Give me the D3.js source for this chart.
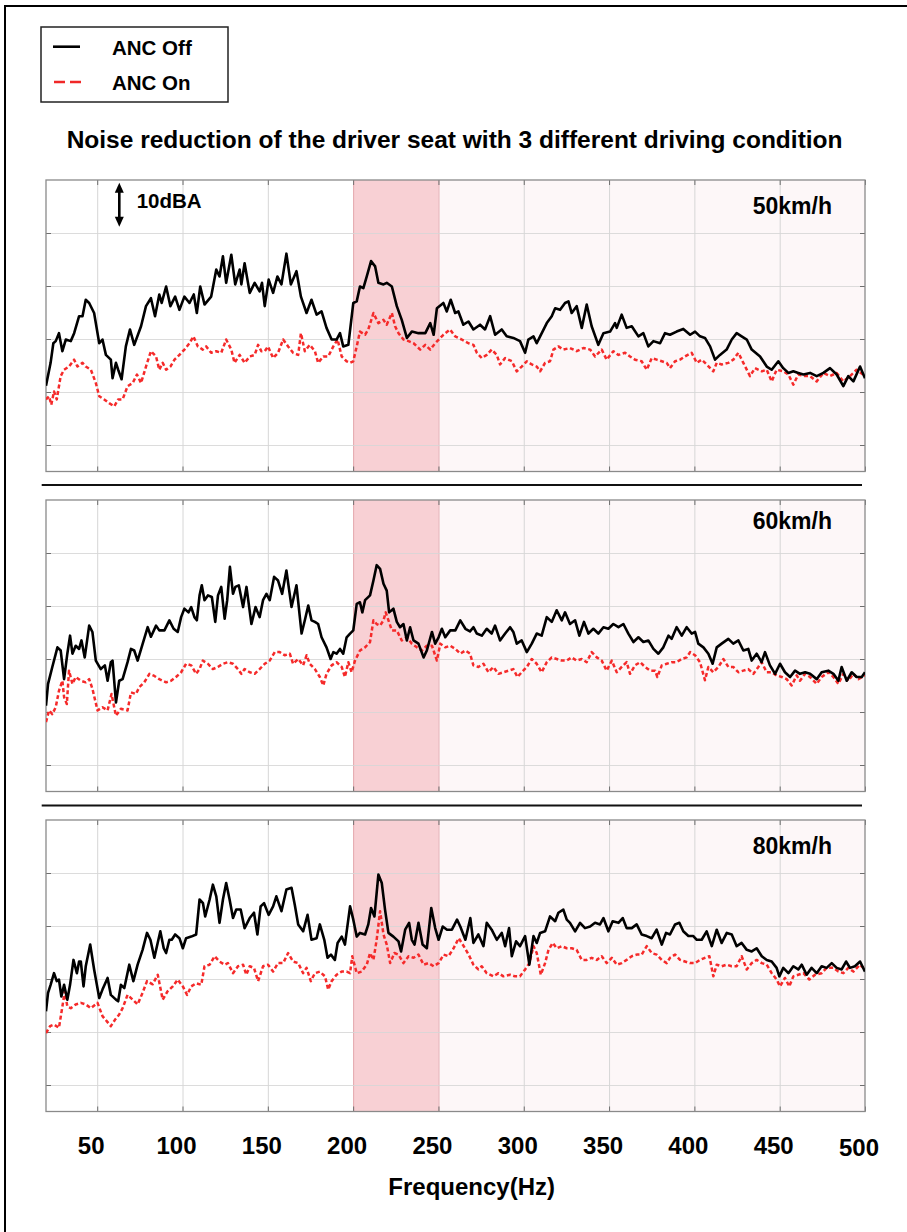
<!DOCTYPE html>
<html>
<head>
<meta charset="utf-8">
<script src="https://cdn.jsdelivr.net/npm/d3@7"></script>
<style>
  body { margin: 0; background: #fff; }
  svg { display: block; }
  text { font-family: "Liberation Sans", Arial, Helvetica, sans-serif; font-weight: bold; fill: #000; }
</style>
</head>
<body>
<svg id="chart" width="907" height="1232"></svg>
<script>
// Cabin sound pressure at the driver seat, [frequency Hz, level dBA]
const off50 = [[20,21.2],[22.7,25.5],[24.3,29.2],[25.7,29.6],[27.6,31.1],[29.6,27.7],[31.6,29.9],[34.5,29.6],[36.5,31.1],[39.4,34.3],[41.4,34.3],[43.3,37.4],[45.3,36.8],[48.2,34.9],[51.2,29.2],[53.1,29.9],[55.1,27],[58,26.1],[59,22.6],[61,25.5],[62.3,24.2],[64.3,22.4],[66.8,28.6],[69.2,31.8],[71.7,28.9],[75.7,32.4],[78.6,36.2],[81.5,37.7],[83.9,34.3],[86.4,38.4],[87.8,36.8],[90.4,39.9],[92.9,36.2],[95.7,38],[98.2,35.5],[101.1,38],[104.1,36.8],[106.6,38.4],[108.4,34.9],[110.4,39.9],[112.9,36.5],[116.8,38],[119.8,43.1],[121.7,41.8],[123.7,45.6],[125.6,40.6],[128.6,45.9],[130.9,40.3],[133.5,43.1],[134.5,40.3],[136.4,44.3],[139.4,38.7],[142.3,40.6],[145.2,39],[146.6,40.6],[148.2,36.2],[150.5,41.2],[153.1,38.7],[155.6,41.8],[158,40.3],[160.9,46.1],[163.5,40.3],[166.8,42.8],[169.4,38],[172.7,34.9],[175.6,37.4],[178.6,34.6],[181.5,35.2],[184.4,32.1],[187.4,29.9],[190.3,29.9],[192.3,31.1],[194.2,28.6],[197.2,28.9],[200.1,36.8],[202.1,37.1],[204,39.9],[206,39.6],[208,41.8],[210.5,44.7],[212.9,43.7],[214.8,40.6],[217.8,40.3],[219.7,40.6],[222.7,39.9],[225.6,36.2],[228.5,33.6],[231.5,30.2],[234.4,31.4],[238.3,31.1],[242.3,31.1],[245.2,33],[247.2,30.8],[249.1,35.8],[252.9,36.8],[254.9,35.2],[257.2,37.4],[259.8,34.9],[261.7,35.2],[264.6,32.7],[267.6,33.3],[270.5,31.8],[274.4,32.7],[277.3,31.8],[280.3,34.3],[283.2,30.8],[287.1,31.8],[290,30.5],[293.9,30.2],[297.8,29.6],[300.8,27.4],[302.7,29.9],[305.7,30.5],[307.6,29.2],[309.6,30.5],[313.5,33],[316.4,34.3],[318.4,35.8],[321.3,35.5],[324.2,36.8],[326.2,37.1],[328.1,34.9],[331,36.2],[334,32.1],[336.9,36.5],[339.8,32.4],[343.7,28.9],[346.7,31.1],[350.6,31.4],[353.5,33],[354.5,32.1],[357.4,34.6],[360.3,32.1],[363.3,32.4],[367.2,30.5],[370.1,31.1],[373,28.6],[376,29.6],[379.9,29.2],[382.8,31.1],[385.7,30.8],[389.6,31.4],[393.5,31.9],[397.5,30.8],[400.4,31.4],[403.3,30.5],[406.2,30.2],[409.2,28.6],[412.1,26.1],[415,27],[418.9,28],[421.9,29.9],[424.8,31.1],[427.7,30.5],[430.7,29.9],[433.6,28],[438.5,26.7],[442.4,24.8],[445.3,24.2],[449.2,25.8],[452.1,24.5],[455.1,23.6],[458,23.9],[460.9,23.6],[463.9,23.3],[467.8,23.6],[471.7,23],[475.6,23.6],[479.5,24.5],[483.4,23.3],[487.3,21.1],[490.2,23],[493.2,22],[497.1,24.8],[500,22.6]];

const on50 = [[20,18.6],[21.8,19.2],[23.1,17.6],[24.7,20.1],[26.3,18.6],[28.6,23],[30.6,24.2],[33.5,24.8],[36.5,26.1],[38.4,24.8],[41.4,25.5],[43.3,24.8],[46.3,24.2],[49.2,21.7],[51.2,19.2],[54.1,18.6],[57,17.9],[60,17.3],[62.3,18.6],[64.9,18.6],[67.8,21.1],[70.8,21.7],[73.3,23.3],[75.7,21.7],[78.6,24.8],[81.5,27.7],[84.5,26.7],[86.4,24.2],[88.4,25.5],[90.4,24.2],[92.9,24.8],[95.3,26.1],[98.2,27],[101.1,28],[104.1,29.2],[106.4,30.5],[109,28.6],[111.9,28],[113.9,28.6],[116.8,27.4],[119.8,27.7],[122.7,27.4],[125.6,29.9],[128.6,28],[130.5,25.5],[133.5,27],[136.4,25.5],[139.4,26.7],[142.3,27],[144.3,28.9],[146.2,27.7],[148.2,27.7],[150.1,28.6],[153.1,26.4],[156,27.4],[159,29.9],[161.9,28.6],[164.8,27.4],[167.8,27],[169.4,31.1],[171.7,27.7],[174.6,28.9],[177.6,27.7],[179.5,25.5],[182.5,26.7],[185.4,26.7],[188.4,28.6],[190.9,29.9],[193.3,26.7],[196.2,25.8],[198.2,25.5],[200.1,25.8],[202.1,28.6],[204,31.4],[207,30.8],[208.9,31.8],[211.9,34.9],[214.8,33],[217.8,33.6],[219.7,32.7],[222.7,34.9],[224.6,32.4],[226.6,31.1],[229.5,29.9],[232.5,29.6],[235.4,29.2],[239.3,28],[242.3,28.9],[245.2,28],[248.1,29.2],[252.9,30.8],[256.8,31.8],[259.8,30.5],[263.7,29.9],[267.6,29.2],[270.5,28.9],[272.5,27.4],[275.4,26.4],[278.3,27],[281.2,28],[284.2,27],[286.1,25.2],[289.1,26.4],[293,25.8],[295.9,23.9],[298.8,24.8],[301.8,25.8],[304.7,25.2],[307.6,24.8],[309.6,23.9],[312.5,25.5],[315.4,25.8],[317.4,28],[320.3,28.6],[323.2,28],[327.1,28.3],[331,27.7],[335,28.3],[338.9,28],[341.8,26.7],[345.7,28],[348.6,26.1],[352.5,27.7],[355.5,27],[359.4,27.4],[362.3,26.7],[365.2,26.1],[369.1,25.8],[372.1,24.2],[375,26.4],[377.9,26.1],[380.9,25.8],[383.8,25.5],[385.7,24.5],[388.7,25.8],[391.6,26.1],[394.5,26.7],[398.4,27.4],[401.4,25.5],[404.3,26.1],[407.2,25.2],[411.1,23.9],[413.1,25.5],[416,25.2],[419.9,25.5],[422.8,26.1],[425.8,27.4],[428.7,25.5],[432.6,23],[435.5,24.5],[439.5,23.9],[442.4,24.2],[445.3,22],[448.2,24.2],[452.1,23.9],[455.1,23.3],[458,21.4],[460.9,23.3],[464.8,23],[467.8,23],[471.7,22],[475.6,23.6],[479.5,23],[483.4,23.6],[487.3,22],[491.2,23],[495.1,24.2],[500,23]];

const off60 = [[20,21.2],[21.2,25.3],[23.7,28.5],[26.7,32.2],[28.6,31.6],[30.6,26.2],[32.5,31],[34.1,34.4],[35.5,31],[37.4,32.5],[39.4,31.9],[40.8,33.5],[42.7,30.3],[45.3,36.3],[47.2,35.1],[49.2,29.7],[52.1,28.1],[54.5,28.8],[56.1,25.9],[58,29.4],[59,29.7],[61,21.8],[62.9,25.9],[64.9,26.2],[67.8,29.4],[69.8,31.9],[71.7,31.6],[73.7,29.7],[76.6,32.8],[79.6,36],[81.5,34.2],[84.5,36.3],[86.4,35.4],[89.4,35.4],[92.3,37.3],[94.8,35.7],[97.2,35.1],[99.2,37.9],[101.1,39.5],[103.5,38.8],[105.1,39.8],[107,37.9],[108.4,37.3],[110,42],[111.3,43.9],[112.9,41.1],[114.9,42],[117.2,41.7],[119.2,37],[120.8,42],[122.7,43.6],[124.7,37.6],[126.2,41.1],[127.8,47.4],[129.6,42.3],[131,43.6],[133,43.9],[135.5,39.8],[137.5,43.6],[140.4,36.6],[142.8,39.8],[145.2,37.9],[147.2,41.1],[149.2,42.3],[151.1,41.1],[153.7,45.5],[156,44.8],[158.4,42.3],[160.9,46.7],[163.9,39.8],[166.8,43.9],[169.8,34.8],[171.7,37.3],[173.7,40.1],[175.6,37.3],[177.6,37],[179.5,36.6],[181.5,34.1],[184.4,32.2],[186.8,30],[188.4,31.3],[190.3,31],[192.3,31.9],[194.2,31],[196.2,34.1],[198.2,34.8],[200.1,35.4],[202.1,40.4],[204,40.7],[205.4,38.8],[207,41.1],[209.9,42],[211.9,44.8],[213.8,47.7],[215.8,47],[217.8,44.2],[219.7,42.9],[221.1,38.8],[223.6,39.5],[225.6,37],[227.5,36],[229.5,36.6],[231.5,33.5],[233.4,36],[235.4,33.5],[238.3,32.9],[241.3,30.3],[243.2,31.6],[246.2,35.1],[248.1,32.9],[250.1,34.1],[252,35.7],[254,34.1],[256.9,35.4],[259.9,35.4],[262.8,37.3],[265.8,35.7],[268.5,35.2],[270.5,36],[272.5,34.8],[275.4,34.4],[278.3,35.7],[281.2,34.8],[283.2,36.3],[286.1,33.5],[289.1,34.8],[292,36],[293.9,35.1],[295.9,32.9],[298.8,33.5],[301.8,31.3],[304.7,32.9],[307.6,34.8],[310.5,34.4],[313.5,37.9],[316.4,37],[319.3,39.2],[322.3,37.3],[324.2,38.8],[327.1,36.6],[330.1,37.3],[332.6,34.4],[335.3,37],[337.9,34.8],[340.8,35.7],[343.7,34.8],[346.7,36],[349.6,35.7],[352.5,36.6],[355.5,36],[358.4,36.6],[361.3,34.8],[364.3,33.2],[367.2,34.1],[370.1,33.2],[373,33.5],[376,31.9],[378.9,31],[381.8,32.2],[384.8,34.4],[386.7,33.8],[389.6,36],[392.6,34.4],[395.5,36],[398.4,34.8],[400.4,35.1],[402.3,32.9],[405.3,32.2],[408.2,31],[410.7,29.1],[413.1,32.2],[416,32.9],[419.9,33.8],[422.8,32.9],[425.8,33.5],[428.7,31.6],[431.6,31.9],[433.6,29.7],[436.5,31],[439.4,29.4],[441.4,31.3],[444.3,28.8],[447.3,27.2],[450.2,29.1],[453.1,27.5],[456.1,26.6],[459,27.8],[461.9,27.2],[464.9,27.5],[467.8,27.2],[471.7,26.2],[474.6,27.5],[478.5,27.8],[481.5,27.2],[484.4,25.9],[486.3,28.5],[489.3,25.9],[492.2,27.5],[495.1,26.6],[498.1,26.6],[500,27.5]];

const on60 = [[20,18.1],[21.8,20.3],[23.7,19.6],[25.7,20.9],[27.6,24],[29.6,25.9],[30.6,22.8],[32.2,21.5],[33.5,27.8],[35.5,25.3],[37.4,26.6],[40.4,25.9],[43.3,25.6],[45.3,26.2],[47.2,24.4],[50.2,20.3],[53.1,20.9],[56.1,20.3],[58.4,23.4],[61,19.3],[63.9,20.6],[67.8,20.3],[69.8,23.7],[72.7,23.4],[74.7,24.7],[77.6,25.6],[80.6,27.2],[83.5,26.8],[86.4,26.2],[90.4,25.6],[93.3,25.9],[96.2,26.6],[99.2,27.5],[102.1,29.1],[105.1,28.8],[108,27.2],[110,28.1],[111.9,29.7],[114.9,29.1],[117.8,28.1],[120.7,28.5],[123.7,29.1],[126.6,29.4],[129.6,29.1],[132.5,28.1],[134.5,27.2],[136.4,28.1],[139.4,27.5],[142.3,27.2],[145.2,28.1],[148.2,29.1],[151.1,29.7],[154.1,31.3],[157,31.3],[159.9,30.7],[162.9,31],[164.8,29.1],[167.8,30],[170.7,28.8],[172.7,30.7],[174.6,29.1],[177.6,28.1],[180.5,26.6],[182.5,25],[184.4,27.2],[187.4,28.8],[190.3,29.4],[193.3,28.5],[195.2,26.6],[197.2,29.4],[199.1,27.5],[201.1,29.7],[204,31.6],[207,32.2],[209.9,33.2],[211.9,37.3],[213.8,36.6],[215.8,36.3],[217.8,37.3],[219.1,38.8],[220.7,37.3],[222.7,35.4],[225.6,35.4],[228.5,33.5],[231.5,34.1],[234.4,32.9],[237.4,32.2],[240.3,31.6],[243.2,32.5],[246.2,32.5],[249.1,29.7],[251.1,32.9],[254,32.2],[256.9,32.5],[259.9,31.9],[262.8,31],[265.8,31.6],[268.5,31],[270.5,28.8],[273.4,28.5],[276.4,29.1],[279.3,27.5],[282.2,28.5],[285.2,27.2],[288.1,27.5],[291,27.8],[293.9,28.1],[296.3,26.6],[298.8,27.5],[301.8,28.5],[304.7,30],[307.6,29.1],[310.5,27.5],[313.5,29.4],[316.4,30.3],[319.3,30],[322.3,29.7],[325.2,29.7],[328.1,30.3],[331,29.7],[334,30],[336.9,29.4],[339.8,31.3],[342.8,30.3],[345.7,29.7],[348.6,27.8],[351.6,29.7],[354.5,27.5],[357.4,28.5],[360.3,29.4],[362.3,27.2],[365.2,28.8],[368.2,29.4],[371.1,28.5],[374,27.8],[377,27.8],[378.3,26.6],[380.9,28.8],[383.8,29.1],[386.7,29.4],[389.6,29.4],[392.6,30],[395.5,30.3],[397.5,31.3],[400.4,30.7],[403.3,29.4],[406.2,26],[408.2,28.5],[411.1,27.5],[414.1,28.5],[417,30],[419.9,28.5],[422.8,28.5],[425.8,27.5],[428.7,27.8],[431.6,28.1],[434.6,27.2],[437.5,28.5],[439.4,29.4],[442.4,27.5],[445.3,27.5],[448.2,26.9],[451.2,26.6],[454.1,26.2],[457,25],[460,26.9],[461.9,25.9],[464.9,27.2],[467.8,26.6],[471.7,25.3],[474.6,26.6],[478.5,27.5],[481.5,26.6],[484.4,25.3],[487.3,27.2],[490.2,25.9],[493.2,27.2],[496.1,26.2],[500,26.9]];

const off80 = [[20,23.9],[21.2,27.4],[22.7,28.9],[24.7,31.1],[26.3,29.6],[27.6,29.9],[29,26.7],[30.6,28.9],[32.5,26.1],[34.1,28.9],[36.1,33.6],[38.1,31.1],[39.4,33.3],[40.4,33.3],[42,28.6],[43.3,32.4],[45.9,36.5],[48.2,31.8],[51.2,26.4],[53.1,28],[56.1,30.2],[58,27],[61,26.1],[62.3,25.8],[63.9,28.9],[65.9,28.3],[68.8,32.7],[71.2,29.6],[73.7,32.7],[76.6,35.5],[79.2,38.7],[81.2,37.4],[83.5,34],[87,39],[89,35.8],[90.4,34.9],[92.3,37.4],[93.7,37.4],[95.7,38.4],[98.2,37.7],[100.2,35.8],[102.1,37.7],[105.1,38],[108,38.4],[110,45],[112,44.3],[113.3,41.8],[115.9,45],[117.8,47.8],[119.8,45.6],[121.7,40.6],[123.7,45],[125.6,48.1],[127.6,45],[129.6,41.5],[131.5,43.1],[134.1,43.1],[136.4,39.6],[139.4,41.5],[141.9,42.5],[143.9,38.4],[145.8,43.7],[147.8,44.3],[150.5,42.1],[153.1,43.7],[155,45.6],[158,42.8],[160.9,46.9],[163.9,47.2],[165.8,44],[167.8,40.3],[170.7,39],[173.3,42.1],[175.6,37.4],[178.6,37.7],[180.5,40.3],[183.1,37.4],[185,34],[187,34.6],[189.3,33.6],[190.9,36.8],[193.3,38],[195.2,36.5],[198.2,43.7],[200.1,41.2],[202.1,38],[204,38.7],[207,38.4],[208.9,40.3],[210.5,43.4],[212.5,41.8],[214.8,49.7],[216.8,48.1],[218.7,43.1],[220.7,38.7],[223.6,38],[226.6,37.1],[228.1,35.2],[230.5,39.3],[232.8,40.6],[234.4,37.4],[236,36.5],[238.3,40.6],[240.7,36.5],[243.2,35.8],[245.8,43.4],[248.1,39.6],[250.1,37.4],[252.5,39.9],[255,39.3],[257.9,39.3],[260.9,41.2],[262.8,39.9],[265.8,37.4],[268.7,41.5],[270.5,36.8],[273.4,38.4],[276.4,36.2],[278.3,40.6],[281.2,39.3],[284.2,37.4],[287.1,38.7],[289.1,36.2],[291.4,39.6],[293,34.3],[295.5,37.1],[297.8,36.2],[300.8,38.1],[303.3,32.7],[305.7,38.1],[307.6,36.8],[309.6,38.7],[312.5,39],[315.4,41.8],[318.4,40.9],[320.3,42.5],[323.2,43.1],[325.2,41.2],[327.1,40.6],[330.1,39],[333,40.6],[335.9,39.6],[338.9,39.9],[341.8,40.6],[344.7,40.3],[346.7,41.5],[349.6,39],[352.1,40.9],[355.5,40.6],[358,41.5],[360.3,39.6],[363.3,39.6],[366.2,40.3],[369.1,38.4],[372.1,38.1],[375,37.7],[377.9,39.3],[380.9,36.5],[383.4,38.7],[385.7,38.4],[388.7,40.3],[391.2,40.6],[393.5,39],[396.5,38.1],[399.4,38.1],[401.4,37.4],[404.3,37.4],[407.2,39],[410.2,36.2],[413.1,39.3],[416,36.8],[419,38.7],[421.9,38.4],[424.8,36.2],[427.7,36.8],[430.7,35.5],[433.6,35.2],[436.5,35.8],[439.5,34.3],[442.4,33.6],[445.3,33.3],[448.2,32.1],[449.8,30.5],[452.1,32.1],[455.1,31.1],[458,32.4],[460.9,31.8],[462.9,32.7],[465.8,30.8],[468.7,32.1],[471.7,31.1],[474.6,32.4],[477.5,32.1],[480.5,33],[483.4,32.1],[486.3,31.8],[488.9,33.3],[491.2,32.1],[494.1,32.4],[497.1,33.3],[500,31.4]];

const on80 = [[20,19.8],[22.4,21.1],[24.7,21.4],[27.6,20.8],[29.6,24.8],[31,27.7],[32.5,24.8],[34.5,24.5],[37.4,25.2],[40.4,25.5],[43.3,25.2],[46.3,24.5],[50.2,25.5],[53.1,23],[55.7,22],[58,21.1],[60.4,22.3],[62.9,23.3],[64.9,24.5],[67.8,27],[70.8,26.1],[73.7,25.2],[76.6,27.4],[79.2,29.6],[82.5,29],[85.5,30.8],[88.4,26.1],[91.3,27.7],[94.3,28.6],[97.2,29.9],[100.2,28.6],[102.7,27],[105.1,28.6],[108,29.2],[111,28.9],[112.9,32.4],[115.9,32.7],[118.8,34.3],[121.7,33.3],[124.7,32.7],[126.6,33],[129.6,31.1],[132.5,32.4],[135.5,32.7],[137.4,30.8],[139.4,32.4],[141.9,32.1],[144.3,29.6],[147.2,32.4],[150.1,32.7],[153.1,31.4],[156,33],[159,33],[161.9,34.9],[164.8,33.3],[167.8,33],[170.7,31.1],[172.7,32.1],[175.2,29.6],[177.6,31.1],[180.5,31.4],[183.5,30.5],[185.4,28],[187.4,29.6],[190.3,30.8],[193.3,31.4],[196.2,31.4],[198.2,31.1],[199.5,34.3],[202.1,31.1],[205,31.4],[208,32.7],[209.9,34.9],[211.9,33.6],[213.8,37.4],[215.8,42.8],[217.8,38.4],[219.7,36.5],[221.7,33],[224.2,34.9],[226.6,34.6],[229.5,33],[232.5,34.3],[235.4,34],[238.3,34.6],[241.3,32.7],[244.2,33],[247.2,32.4],[250.1,33],[253,34.6],[255.9,34.3],[258.9,35.8],[261.9,37.7],[264.8,36.2],[267.7,34.6],[270.5,32.7],[273.4,31.8],[275.4,32.4],[278.3,31.1],[282.2,30.5],[285.2,31.1],[288.1,30.5],[292,30.8],[294.9,30.5],[297.8,30.5],[300.8,31.8],[303.3,33],[305.7,36.2],[307.6,34.9],[310,30.8],[312.5,33],[314.5,35.5],[317,36.8],[319.3,35.8],[322.3,36.2],[325.2,35.8],[328.1,35.8],[331,35.5],[334,33.6],[336.9,33.6],[339.8,34],[342.8,33.6],[345.7,34.3],[348.6,33],[351.6,34],[354.5,32.7],[357.4,33],[360.3,33.6],[363.3,34.3],[366.2,34.6],[369.1,34.6],[372.1,36.2],[375,34.9],[377.9,34.6],[380.9,33.6],[383.8,33],[385.7,34],[388.7,34.6],[391.6,33.6],[394.5,33.3],[397.5,33],[400.4,33],[403.3,33.6],[406.2,34],[408.8,34.3],[411.1,30.5],[413.1,32.7],[416,32.4],[419,32.7],[421.9,32.4],[424.8,32.4],[427.7,34.3],[430.7,31.8],[433.6,33],[436.5,33.6],[439.5,33],[442.4,32.7],[445.3,31.1],[448.2,29.9],[450.2,28.6],[453.1,30.2],[455.6,28.6],[458,30.5],[460.9,30.8],[463.9,31.1],[467.4,29.9],[470.7,30.8],[474.6,31.1],[477.5,32.1],[481.4,32.1],[484.4,31.4],[487.3,31.1],[490.2,32.1],[493.2,31.4],[497.1,32.7],[500,31.8]];

const freqTicks = [50, 100, 150, 200, 250, 300, 350, 400, 450, 500];
const levelTicks = [10, 20, 30, 40, 50];
const seriesNames = ["ANC Off", "ANC On"];
const speedLabels = ["50km/h", "60km/h", "80km/h"];
const focusBand = [200, 250];
const upperBand = [250, 500];
const chartTitle = "Noise reduction of the driver seat with 3 different driving condition";

const panels = [
  { label: speedLabels[0], off: off50, on: on50, top: 180, labelDy: 34.3 },
  { label: speedLabels[1], off: off60, on: on60, top: 500, labelDy: 29.3 },
  { label: speedLabels[2], off: off80, on: on80, top: 820, labelDy: 34.3 }
];

const svg = d3.select("#chart");
const plotLeft = 46, plotRight = 865, panelH = 291.5;
const x = d3.scaleLinear().domain([20, 500]).range([plotLeft, plotRight]);

// outer frame (top and left edges)
svg.append("path").attr("d", "M5,1232V6H907")
  .attr("fill", "none").attr("stroke", "#000").attr("stroke-width", 2);

// legend
const lg = svg.append("g");
lg.append("rect").attr("x", 41).attr("y", 27).attr("width", 187).attr("height", 75)
  .attr("fill", "#fff").attr("stroke", "#222").attr("stroke-width", 1.5);
lg.append("line").attr("x1", 53).attr("x2", 80).attr("y1", 46.7).attr("y2", 46.7)
  .attr("stroke", "#000").attr("stroke-width", 2.6);
lg.append("line").attr("x1", 54).attr("x2", 82).attr("y1", 82).attr("y2", 82)
  .attr("stroke", "#f02828").attr("stroke-width", 2.6).attr("stroke-dasharray", "11,5");
lg.append("text").attr("x", 112).attr("y", 55).attr("font-size", 20.5).text(seriesNames[0]);
lg.append("text").attr("x", 112).attr("y", 90).attr("font-size", 20.5).text(seriesNames[1]);

// title
svg.append("text").attr("x", 454.6).attr("y", 148.3).attr("text-anchor", "middle")
  .attr("font-size", 24.5).text(chartTitle);

// separators between panels
[485, 805.5].forEach(yy => {
  svg.append("line").attr("x1", 41.7).attr("x2", 862).attr("y1", yy).attr("y2", yy)
    .attr("stroke", "#111").attr("stroke-width", 1.8);
});

panels.forEach((p, i) => {
  const y = d3.scaleLinear().domain([5, 60]).range([p.top + panelH, p.top]);
  const g = svg.append("g");
  const clipId = "clip" + i;
  svg.append("clipPath").attr("id", clipId).append("rect")
    .attr("x", plotLeft).attr("y", p.top).attr("width", plotRight - plotLeft).attr("height", panelH);

  // shaded frequency bands
  g.append("rect").attr("x", x(upperBand[0])).attr("y", p.top)
    .attr("width", x(upperBand[1]) - x(upperBand[0])).attr("height", panelH).attr("fill", "#fdf7f8");
  g.append("rect").attr("x", x(focusBand[0])).attr("y", p.top)
    .attr("width", x(focusBand[1]) - x(focusBand[0])).attr("height", panelH).attr("fill", "#f8d0d4");

  // grid
  const gx = g.append("g").attr("transform", `translate(0,${p.top + panelH})`)
    .call(d3.axisBottom(x).tickValues(freqTicks.filter(t => t < 500)).tickSize(-panelH).tickFormat(""));
  gx.select(".domain").remove();
  gx.selectAll("line").attr("stroke", d => (d === 200 || d === 250) ? "#e4a8ae" : "#d6d6d6").attr("stroke-width", 1);
  const gy = g.append("g").attr("transform", `translate(${plotLeft},0)`)
    .call(d3.axisLeft(y).tickValues(levelTicks).tickSize(-(plotRight - plotLeft)).tickFormat(""));
  gy.select(".domain").remove();
  gy.selectAll("line").attr("stroke", "#d6d6d6").attr("stroke-opacity", 0.85).attr("stroke-width", 1);

  // inward tick marks on all four sides
  const tickCol = "#6e6e6e";
  const sides = [
    [d3.axisLeft(y).tickValues(levelTicks).tickSize(-5), `translate(${plotLeft},0)`],
    [d3.axisRight(y).tickValues(levelTicks).tickSize(-5), `translate(${plotRight},0)`],
    [d3.axisBottom(x).tickValues(freqTicks).tickSize(-5), `translate(0,${p.top + panelH})`],
    [d3.axisTop(x).tickValues(freqTicks).tickSize(-5), `translate(0,${p.top})`]
  ];
  sides.forEach(([ax, tr]) => {
    const a = g.append("g").attr("transform", tr).call(ax.tickFormat(""));
    a.select(".domain").remove();
    a.selectAll("line").attr("stroke", tickCol);
  });

  // frame
  g.append("rect").attr("x", plotLeft).attr("y", p.top).attr("width", plotRight - plotLeft)
    .attr("height", panelH).attr("fill", "none").attr("stroke", "#8a8a8a").attr("stroke-width", 1.3);

  const line = d3.line().x(d => x(d[0])).y(d => y(d[1]));
  g.append("path").datum(p.on).attr("d", line).attr("clip-path", `url(#${clipId})`)
    .attr("fill", "none").attr("stroke", "#f52a2a").attr("stroke-width", 2.5)
    .attr("stroke-dasharray", "4,2.6").attr("stroke-linejoin", "round");
  g.append("path").datum(p.off).attr("d", line).attr("clip-path", `url(#${clipId})`)
    .attr("fill", "none").attr("stroke", "#000").attr("stroke-width", 2.6).attr("stroke-linejoin", "round");

  g.append("text").attr("x", 832).attr("y", p.top + p.labelDy).attr("text-anchor", "end")
    .attr("font-size", 23).text(p.label);

  if (i === 0) {
    // 10 dBA scale marker
    const ax = 119.3, a0 = p.top + 2.7, a1 = p.top + 46.7;
    g.append("line").attr("x1", ax).attr("x2", ax).attr("y1", a0 + 8).attr("y2", a1 - 8)
      .attr("stroke", "#000").attr("stroke-width", 2.6);
    g.append("path").attr("d", `M${ax},${a0}L${ax - 4.5},${a0 + 10}L${ax + 4.5},${a0 + 10}Z`).attr("fill", "#000");
    g.append("path").attr("d", `M${ax},${a1}L${ax - 4.5},${a1 - 10}L${ax + 4.5},${a1 - 10}Z`).attr("fill", "#000");
    g.append("text").attr("x", 136.7).attr("y", p.top + 28.3).attr("font-size", 20.5).text("10dBA");
  }
});

// frequency labels under the last panel
svg.append("g").selectAll("text").data(freqTicks).join("text")
  .attr("x", d => x(d) - 6)
  .attr("y", d => d === 500 ? 1156 : 1154.3)
  .attr("text-anchor", "middle").attr("font-size", 24)
  .text(d => d);

svg.append("text").attr("x", 471.7).attr("y", 1195).attr("text-anchor", "middle")
  .attr("font-size", 24).text("Frequency(Hz)");
</script>
</body>
</html>
